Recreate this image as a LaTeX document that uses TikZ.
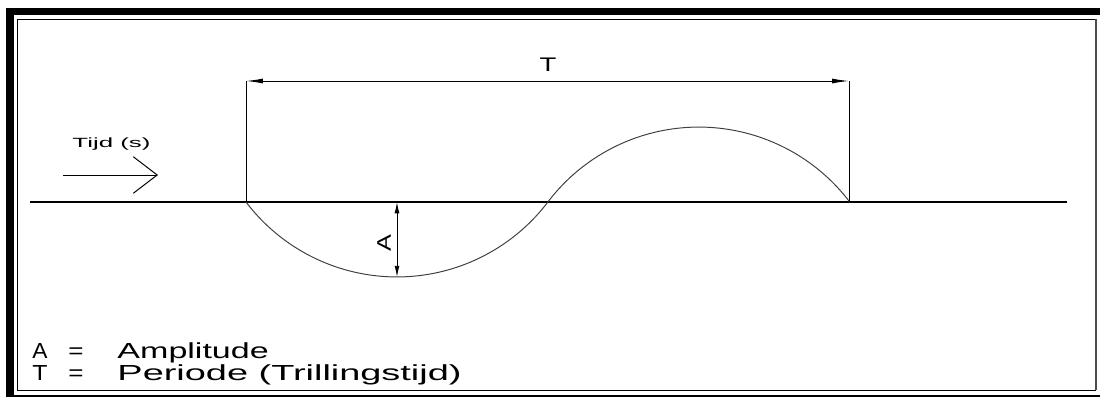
\documentclass[tikz,border=0pt]{standalone}
\usepackage{fontspec}
\usepackage{graphicx}
\setmainfont{Liberation Sans}
% stretch a text to the width it has in the drawing
\newcommand{\cadw}[2]{\resizebox{#1}{\height}{#2}}
\usetikzlibrary{arrows.meta}
\tikzset{
  cadtext/.style={inner sep=0pt, font=\fontsize{14}{14}\selectfont},
  legtext/.style={inner sep=0pt, anchor=base west, font=\fontsize{15.5}{15.5}\selectfont},
  smalltext/.style={inner sep=0pt, font=\fontsize{9.5}{9.5}\selectfont},
  dimline/.style={line width=0.7pt, {Latex[length=12pt,width=3.5pt]}-{Latex[length=12pt,width=3.5pt]}},
  wave/.style={line width=0.7pt, black!75},
}
\begin{document}
\begin{tikzpicture}[x=0.025cm, y=-0.025cm, line width=0.7pt]
  \useasboundingbox (0,0) rectangle (1100,397);
  % frame
  \fill (6,8) rectangle (1100,15);
  \fill (6,8) rectangle (14,397);
  \draw (17,19) -- (1096,19);
  \draw (17,19) -- (17,390) -- (1096,390);
  \draw[line width=1.4pt, black!70] (1096,19) -- (1096,390);
  \draw[line width=1.6pt] (14,396) -- (1100,396);
  % time axis and wave
  \draw[line width=1pt] (30,202) -- (1067,202);
  \coordinate (s) at (246,202);
  \coordinate (m) at (548,202);
  \coordinate (e) at (849,202);
  \draw[wave] (s) arc[start angle=142.8, end angle=37.2, radius=189.5]
              arc[start angle=217.2, end angle=322.8, radius=189.5];
  % period T
  \coordinate (ts) at (246,81);
  \coordinate (te) at (849,81);
  \draw (s) -- (ts);
  \draw (e) -- (te);
  \draw[dimline] (ts) -- (te);
  \node[cadtext] (tlabel) at (548,65) {\cadw{0.42cm}{T}};
  % amplitude A
  \coordinate (at) at (397,202);
  \coordinate (ab) at (397,277);
  \draw[line width=0.7pt, {Latex[length=8pt,width=3.5pt]}-{Latex[length=8pt,width=3.5pt]}] (at) -- (ab);
  \node[cadtext, rotate=90] (alabel) at (384,243) {\cadw{0.42cm}{A}};
  % direction of time
  \coordinate (tijds) at (63,175);
  \coordinate (tijde) at (158,175);
  \draw[-{Straight Barb[length=17pt,width=26pt]}] (tijds) -- (tijde);
  \node[smalltext, anchor=base west] (tijd) at (72,147) {\cadw{1.95cm}{Tijd (s)}};
  % legend
  \node[legtext] (lega) at (32,358) {\cadw{0.38cm}{A}};
  \node[legtext] (legaeq) at (68,358) {\cadw{0.38cm}{=}};
  \node[legtext] (legatxt) at (117,358) {\cadw{3.78cm}{Amplitude}};
  \node[legtext] (legt) at (32,380) {\cadw{0.38cm}{T}};
  \node[legtext] (legteq) at (68,380) {\cadw{0.38cm}{=}};
  \node[legtext] (legttxt) at (117,380) {\cadw{8.6cm}{Periode (Trillingstijd)}};
\end{tikzpicture}
\end{document}
